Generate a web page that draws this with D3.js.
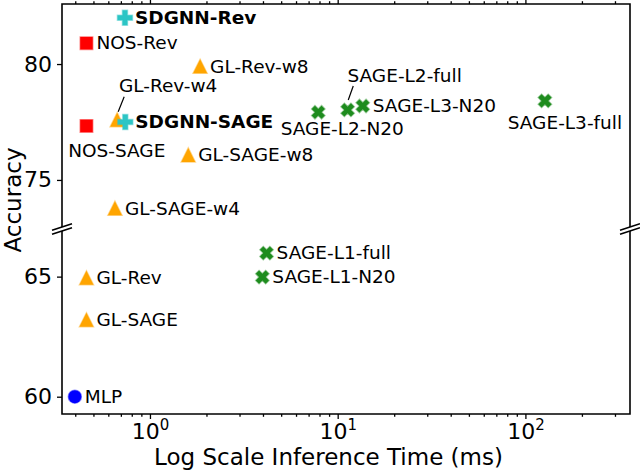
<!DOCTYPE html>
<html>
<head>
<meta charset="utf-8">
<script src="https://cdn.jsdelivr.net/npm/d3@7"></script>
<style>
  body { margin: 0; background: #fff; }
  svg { display: block; font-family: "DejaVu Sans", sans-serif; }
  .frame { fill: none; stroke: #000; stroke-width: 1.6; }
  .axis .domain { display: none; }
  .axis line { stroke: #000; stroke-width: 1.3; }
  .axis text { font-family: "DejaVu Sans", sans-serif; font-size: 22px; fill: #000; }
  .lbl { font-size: 18.5px; fill: #000; }
</style>
</head>
<body>
<div id="chart"></div>
<script>
// methods, inference time (ms) and accuracy
const names = ["SDGNN-Rev", "NOS-Rev", "GL-Rev-w8", "GL-Rev-w4", "SDGNN-SAGE", "NOS-SAGE",
               "GL-SAGE-w8", "GL-SAGE-w4", "SAGE-L2-N20", "SAGE-L2-full", "SAGE-L3-N20",
               "SAGE-L3-full", "SAGE-L1-full", "SAGE-L1-N20", "GL-Rev", "GL-SAGE", "MLP"];
const times = [0.736, 0.459, 1.85, 0.669, 0.739, 0.459,
               1.6, 0.651, 7.88, 11.3, 13.6,
               127, 4.18, 3.97, 0.459, 0.459, 0.398];
const accs  = [82.0, 80.9, 79.9, 77.6, 77.5, 77.33,
               76.08, 73.78, 77.92, 78.02, 78.19,
               78.41, 65.98, 64.98, 64.95, 63.2, 60.0];
const kinds = ["sdgnn", "nos", "gl", "gl", "sdgnn", "nos",
               "gl", "gl", "sage", "sage", "sage",
               "sage", "sage", "sage", "gl", "gl", "mlp"];

const xTicks = [1, 10, 100];
const yTicksTop = [75, 80];
const yTicksBot = [60, 65];

// custom marker shapes (size = full width in px)
const sq = { draw(c, s) { const h = s / 2; c.rect(-h, -h, s, s); } };
const tri = { draw(c, s) { const h = s / 2; c.moveTo(0, -h); c.lineTo(h, h); c.lineTo(-h, h); c.closePath(); } };
const circ = { draw(c, s) { const r = s / 2; c.moveTo(r, 0); c.arc(0, 0, r, 0, 2 * Math.PI); } };
function plusPts(s) {
  const a = s / 6, b = s / 2;
  return [[-a,-b],[a,-b],[a,-a],[b,-a],[b,a],[a,a],[a,b],[-a,b],[-a,a],[-b,a],[-b,-a],[-a,-a]];
}
const plus = { draw(c, s) { plusPts(s).forEach((p, i) => i ? c.lineTo(p[0], p[1]) : c.moveTo(p[0], p[1])); c.closePath(); } };
const cross = { draw(c, s) {
  const k = Math.SQRT1_2;
  plusPts(s).forEach((p, i) => {
    const x = (p[0] - p[1]) * k, y = (p[0] + p[1]) * k;
    i ? c.lineTo(x, y) : c.moveTo(x, y);
  });
  c.closePath();
} };

const style = {
  nos:   { type: sq,    size: 12.5, color: "#ff0000" },
  gl:    { type: tri,   size: 14,   color: "#ffa500" },
  sdgnn: { type: plus,  size: 15,   color: "#2cc5c5" },
  sage:  { type: cross, size: 14,   color: "#1e8c1e" },
  mlp:   { type: circ,  size: 13,   color: "#0000ff" }
};

// label placement (default: right of marker)
const place = {
  "GL-Rev-w4":    { dx: 51, dy: -27.3, anchor: "middle", leader: [1, -8, 7, -23] },
  "NOS-SAGE":     { dx: 30.3, dy: 30.7, anchor: "middle" },
  "SAGE-L2-N20":  { dx: 24, dy: 22.7, anchor: "middle" },
  "SAGE-L2-full": { dx: 57, dy: -28.3, anchor: "middle", leader: [0.6, -10, 5.6, -24] },
  "SAGE-L3-full": { dx: 20, dy: 28.3, anchor: "middle" }
};

const W = 640, H = 472;
const left = 62, right = 630;
const top1 = 4, bot1 = 227, top2 = 231, bot2 = 414;

const svg = d3.select("#chart").append("svg").attr("width", W).attr("height", H);

const x = d3.scaleLog().domain([0.34, 360.7]).range([left, right]);
const yTop = d3.scaleLinear().domain([72.97, 82.59]).range([bot1, top1]);
const yBot = d3.scaleLinear().domain([59.28, 66.9]).range([bot2, top2]);

const minor = [];
[0.1, 1, 10, 100].forEach(d => { for (let m = 2; m <= 9; m++) minor.push(d * m); });
const minorIn = minor.filter(v => v > 0.34 && v < 360.7);

// y axes
svg.append("g").attr("class", "axis").attr("transform", `translate(${left},0)`)
  .call(d3.axisLeft(yTop).tickValues(yTicksTop).tickSize(5).tickPadding(5).tickFormat(d3.format("d")));
svg.append("g").attr("class", "axis").attr("transform", `translate(${left},0)`)
  .call(d3.axisLeft(yBot).tickValues(yTicksBot).tickSize(5).tickPadding(5).tickFormat(d3.format("d")));

// x axes: ticks on top of upper panel, ticks + labels at bottom
svg.append("g").attr("class", "axis").attr("transform", `translate(0,${top1})`)
  .call(d3.axisTop(x).tickValues(xTicks).tickSize(5).tickFormat(""));
svg.append("g").attr("class", "axis").attr("transform", `translate(0,${top1})`)
  .call(d3.axisTop(x).tickValues(minorIn).tickSize(2.8).tickFormat(""));
svg.append("g").attr("class", "axis").attr("transform", `translate(0,${bot2})`)
  .call(d3.axisBottom(x).tickValues(minorIn).tickSize(2.8).tickFormat(""));
const xb = svg.append("g").attr("class", "axis").attr("transform", `translate(0,${bot2})`)
  .call(d3.axisBottom(x).tickValues(xTicks).tickSize(5).tickPadding(5).tickFormat(""));
xb.selectAll(".tick text").each(function(d) {
  const t = d3.select(this).attr("dy", null).attr("y", 25);
  t.append("tspan").text("10");
  t.append("tspan").attr("dy", -9).style("font-size", "15px").text(Math.round(Math.log10(d)));
});

// frames (no spine across the break)
svg.append("path").attr("class", "frame")
  .attr("d", `M${left},${bot1}V${top1}H${right}V${bot1}`);
svg.append("path").attr("class", "frame")
  .attr("d", `M${left},${top2}V${bot2}H${right}V${top2}`);

// break marks
[[left, bot1], [right, bot1], [left, top2], [right, top2]].forEach(p => {
  svg.append("line")
    .attr("x1", p[0] - 10).attr("y1", p[1] + 3.3)
    .attr("x2", p[0] + 10).attr("y2", p[1] - 3.3)
    .attr("stroke", "#000").attr("stroke-width", 1.6);
});

// points
const pts = names.map((n, i) => ({
  name: n, t: times[i], a: accs[i], kind: kinds[i],
  px: x(times[i]), py: accs[i] > 70 ? yTop(accs[i]) : yBot(accs[i])
}));

svg.append("g").selectAll("path").data(pts).join("path")
  .attr("transform", d => `translate(${d.px},${d.py})`)
  .attr("d", d => d3.symbol().type(style[d.kind].type).size(style[d.kind].size)())
  .attr("fill", d => style[d.kind].color)
  .attr("stroke", d => style[d.kind].color)
  .attr("stroke-opacity", 0.45)
  .attr("stroke-width", 1.5);

// labels and leader lines
pts.forEach(d => {
  const p = place[d.name] || { dx: 10, dy: 6.3, anchor: "start" };
  svg.append("text").attr("class", "lbl")
    .attr("x", d.px + p.dx).attr("y", d.py + p.dy)
    .attr("text-anchor", p.anchor)
    .attr("font-weight", d.name.startsWith("SDGNN") ? "bold" : "normal")
    .text(d.name);
  if (p.leader) {
    svg.append("line")
      .attr("x1", d.px + p.leader[0]).attr("y1", d.py + p.leader[1])
      .attr("x2", d.px + p.leader[2]).attr("y2", d.py + p.leader[3])
      .attr("stroke", "#000").attr("stroke-width", 1.2);
  }
});

// axis titles
svg.append("text").attr("x", 328.5).attr("y", 465)
  .attr("text-anchor", "middle").style("font-size", "23px")
  .text("Log Scale Inference Time (ms)");
svg.append("text").attr("transform", "translate(21,200) rotate(-90)")
  .attr("text-anchor", "middle").style("font-size", "23px")
  .text("Accuracy");
</script>
</body>
</html>
